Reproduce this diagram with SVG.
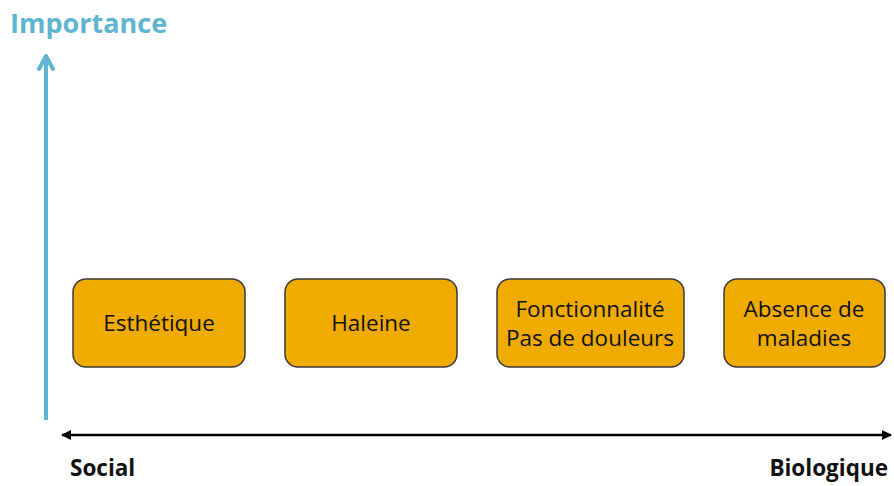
<svg xmlns="http://www.w3.org/2000/svg" width="894" height="486" viewBox="0 0 894 486">
<style>
.box{fill:#f0ab00;stroke:#3a3a3a;stroke-width:1.5}
.bt{font-family:"Open Sans","Liberation Sans",sans-serif;font-size:22.5px;fill:#111;text-anchor:middle}
.ax{font-family:"Open Sans","Liberation Sans",sans-serif;font-size:22.5px;font-weight:bold;fill:#111}
</style>
<defs>
<marker id="ah" viewBox="0 0 10 10" refX="9" refY="5" markerWidth="4" markerHeight="4" orient="auto-start-reverse">
<path d="M0,0 L10,5 L0,10 z" fill="#000"/>
</marker>
</defs>
<text x="10" y="33" font-family="Open Sans, Liberation Sans, sans-serif" font-size="27" font-weight="bold" fill="#5fb4cf">Importance</text>
<g id="connectors">
<line x1="46" y1="420" x2="46" y2="56" stroke="#5fb4cf" stroke-width="4"/>
<polyline points="39,69 46,56 53,69" fill="none" stroke="#5fb4cf" stroke-width="4" stroke-linecap="round" stroke-linejoin="round"/>
<line x1="62" y1="435" x2="891" y2="435" stroke="#000" stroke-width="2.5" marker-start="url(#ah)" marker-end="url(#ah)"/>
</g>
<g id="n1"><rect class="box" x="73" y="279" width="172" height="88" rx="13"/><text class="bt" x="159" y="331">Esthétique</text></g>
<g id="n2"><rect class="box" x="285" y="279" width="172" height="88" rx="13"/><text class="bt" x="371" y="331">Haleine</text></g>
<g id="n3"><rect class="box" x="497" y="279" width="187" height="88" rx="13"/><text class="bt" x="590" y="317">Fonctionnalité</text><text class="bt" x="590" y="346">Pas de douleurs</text></g>
<g id="n4"><rect class="box" x="724" y="279" width="161" height="88" rx="13"/><text class="bt" x="804" y="317">Absence de</text><text class="bt" x="804" y="346">maladies</text></g>
<text class="ax" x="70" y="476">Social</text>
<text class="ax" x="888" y="476" text-anchor="end">Biologique</text>
</svg>
